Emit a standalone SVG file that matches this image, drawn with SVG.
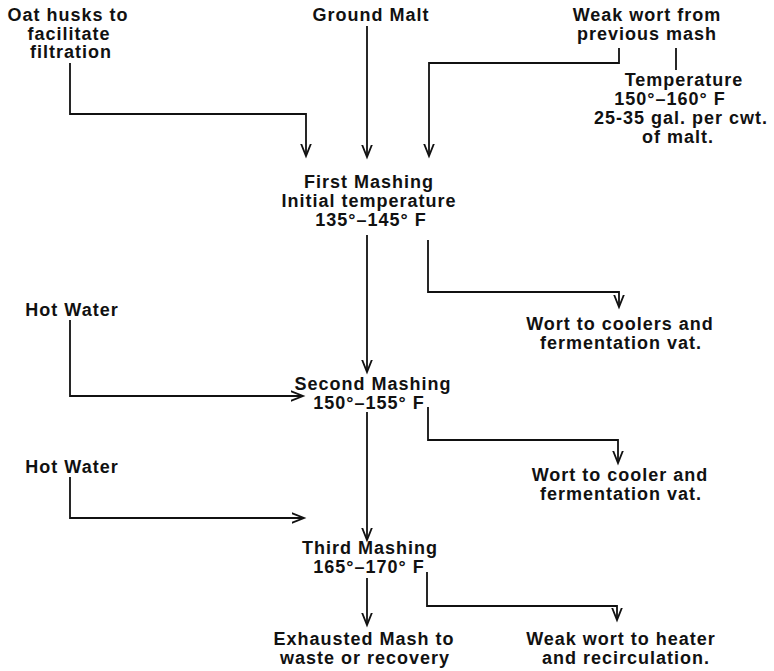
<svg xmlns="http://www.w3.org/2000/svg" width="774" height="671" viewBox="0 0 774 671">
<defs>
<style>
text{font-family:"Liberation Sans",Arial,sans-serif;font-size:18px;font-weight:bold;fill:#111;text-anchor:middle;letter-spacing:1px}
.c{fill:none;stroke:#111;stroke-width:1.8}
</style>
<marker id="ah" markerUnits="userSpaceOnUse" markerWidth="24" markerHeight="24" viewBox="-12 -12 24 24" refX="0" refY="0" orient="auto">
<path d="M-15,-6 L0,0 L-15,6" fill="none" stroke="#111" stroke-width="1.8"/>
</marker>
</defs>
<rect width="774" height="671" fill="#fff"/>
<g id="oat"><text x="68" y="21">Oat husks to</text><text x="69" y="40">facilitate</text><text x="71" y="58">filtration</text></g>
<g id="malt"><text x="371" y="21">Ground Malt</text></g>
<g id="weak"><text x="647" y="21">Weak wort from</text><text x="647" y="40">previous mash</text></g>
<g id="temp"><text x="684" y="86">Temperature</text><text x="670" y="105">150°–160° F</text><text x="681" y="124">25-35 gal. per cwt.</text><text x="678" y="143">of malt.</text></g>
<g id="first"><text x="369" y="188">First Mashing</text><text x="369" y="207">Initial temperature</text><text x="371" y="226">135°–145° F</text></g>
<g id="wort1"><text x="620" y="330">Wort to coolers and</text><text x="621" y="349">fermentation vat.</text></g>
<g id="hot1"><text x="72" y="316">Hot Water</text></g>
<g id="second"><text x="373" y="390">Second Mashing</text><text x="369" y="409">150°–155° F</text></g>
<g id="wort2"><text x="620" y="481">Wort to cooler and</text><text x="621" y="500">fermentation vat.</text></g>
<g id="hot2"><text x="72" y="473">Hot Water</text></g>
<g id="third"><text x="370" y="554">Third Mashing</text><text x="369" y="573">165°–170° F</text></g>
<g id="exhaust"><text x="364" y="645">Exhausted Mash to</text><text x="365" y="664">waste or recovery</text></g>
<g id="weak2"><text x="621" y="645">Weak wort to heater</text><text x="626" y="664">and recirculation.</text></g>
<g id="connectors">
<path class="c" d="M70,63 V114 H306 V156" marker-end="url(#ah)"/>
<path class="c" d="M367,26 V157" marker-end="url(#ah)"/>
<path class="c" d="M619,48 V63 H429 V156" marker-end="url(#ah)"/>
<path class="c" d="M676,48 V70"/>
<path class="c" d="M367,235 V372" marker-end="url(#ah)"/>
<path class="c" d="M428,240 V292 H619 V307" marker-end="url(#ah)"/>
<path class="c" d="M70,320 V396 H303" marker-end="url(#ah)"/>
<path class="c" d="M367,412 V540" marker-end="url(#ah)"/>
<path class="c" d="M428,407 V440 H618 V463" marker-end="url(#ah)"/>
<path class="c" d="M70,477 V518 H304" marker-end="url(#ah)"/>
<path class="c" d="M367,578 V625" marker-end="url(#ah)"/>
<path class="c" d="M427,572 V606 H617 V620" marker-end="url(#ah)"/>
</g>
</svg>
